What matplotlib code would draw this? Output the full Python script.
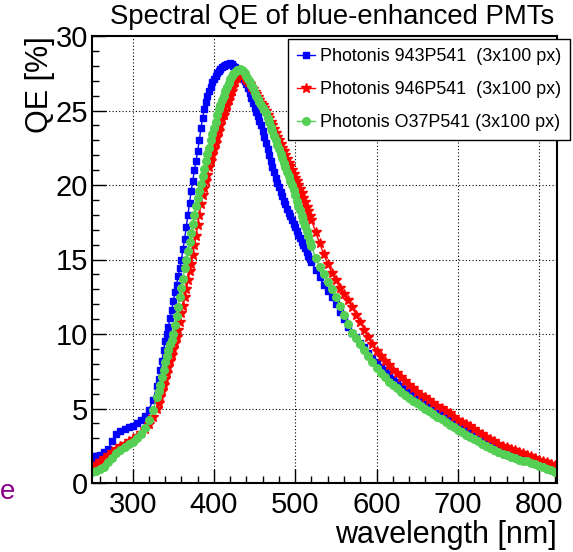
import matplotlib
matplotlib.use("Agg")
import matplotlib.pyplot as plt
from matplotlib.ticker import MultipleLocator

plt.rcParams["font.family"] = ["Liberation Sans", "DejaVu Sans"]

# wavelength grid [nm]: coarse in the UV, fine around the peak, coarse in the tail
wl = list(range(250, 330, 5)) + list(range(330, 520, 2)) + list(range(520, 825, 5))

# Photonis 943P541
qe_943 = [
    1.7, 1.8, 1.9, 2.1, 2.3, 2.8, 3.3, 3.5, 3.6, 3.75, 3.85, 4.0, 4.2, 4.5, 4.9, 5.6,
    # 330 .. 420
    6.5, 7.0, 7.6, 8.2, 8.9, 9.5, 10.0, 10.5, 11.1, 11.6,
    12.2, 12.8, 13.3, 13.9, 14.4, 15.0, 15.7, 16.4, 17.2, 18.0,
    18.8, 19.6, 20.3, 21.0, 21.6, 22.3, 23.0, 23.8, 24.5, 25.1,
    25.6, 26.0, 26.3, 26.6, 26.9, 27.1, 27.3, 27.5, 27.65, 27.8,
    27.9, 28.0, 28.05, 28.1, 28.15, 28.2,
    # 422 .. 518
    28.15, 28.0, 27.9, 27.75, 27.6, 27.45, 27.3, 27.1, 26.95, 26.75,
    26.5, 26.2, 25.85, 25.5, 25.2, 24.9, 24.6, 24.3, 24.0, 23.6,
    23.2, 22.8, 22.4, 22.0, 21.6, 21.2, 20.85, 20.5, 20.15, 19.85,
    19.55, 19.25, 18.95, 18.7, 18.4, 18.15, 17.9, 17.65, 17.4, 17.15,
    16.9, 16.65, 16.45, 16.2, 15.95, 15.75, 15.5, 15.25, 15.05,
    # 520 .. 820
    14.8, 14.3, 13.8, 13.3, 12.9, 12.5, 12.0, 11.5, 11.0, 10.5,
    10.1, 9.8, 9.4, 9.1, 8.7, 8.4, 8.1, 7.8, 7.6, 7.3,
    7.0, 6.8, 6.5, 6.3, 6.1, 5.9, 5.7, 5.5, 5.3, 5.1,
    4.9, 4.7, 4.6, 4.4, 4.2, 4.05, 3.9, 3.75, 3.6, 3.45,
    3.3, 3.15, 3.0, 2.8, 2.65, 2.5, 2.35, 2.25, 2.15, 2.05,
    1.95, 1.85, 1.75, 1.65, 1.55, 1.5, 1.4, 1.3, 1.25, 1.15,
    1.1,
]

# Photonis 946P541
qe_946 = [
    1.2, 1.3, 1.5, 1.7, 1.9, 2.1, 2.3, 2.5, 2.65, 2.8, 2.95, 3.15, 3.35, 3.6, 3.95, 4.4,
    # 330 .. 420
    5.0, 5.4, 5.8, 6.2, 6.6, 7.0, 7.4, 7.8, 8.2, 8.6,
    9.0, 9.4, 9.8, 10.3, 10.8, 11.4, 11.9, 12.5, 13.0, 13.6,
    14.2, 14.7, 15.3, 16.0, 16.6, 17.3, 18.0, 18.7, 19.3, 19.8,
    20.3, 20.7, 21.2, 21.6, 22.0, 22.4, 22.8, 23.2, 23.6, 24.0,
    24.4, 24.7, 25.0, 25.4, 25.7, 26.0,
    # 422 .. 518
    26.3, 26.6, 26.9, 27.2, 27.35, 27.45, 27.4, 27.35, 27.2, 27.05,
    26.9, 26.75, 26.6, 26.45, 26.25, 26.1, 25.9, 25.7, 25.5, 25.35,
    25.15, 24.95, 24.7, 24.5, 24.25, 24.0, 23.75, 23.5, 23.25, 23.0,
    22.75, 22.5, 22.25, 22.0, 21.75, 21.5, 21.25, 21.0, 20.75, 20.5,
    20.25, 20.0, 19.75, 19.45, 19.15, 18.85, 18.55, 18.25, 17.95,
    # 520 .. 820
    17.65, 16.85, 16.1, 15.35, 14.7, 14.1, 13.6, 13.1, 12.7, 12.3,
    11.8, 11.3, 10.8, 10.3, 9.8, 9.3, 8.85, 8.5, 8.2, 7.9,
    7.6, 7.35, 7.1, 6.85, 6.6, 6.35, 6.1, 5.9, 5.75, 5.55,
    5.4, 5.2, 5.05, 4.85, 4.7, 4.45, 4.25, 4.1, 3.95, 3.8,
    3.6, 3.45, 3.3, 3.1, 2.95, 2.8, 2.6, 2.5, 2.4, 2.3,
    2.2, 2.1, 2.0, 1.9, 1.8, 1.7, 1.55, 1.5, 1.4, 1.3,
    1.2,
]

# Photonis O37P541
qe_o37 = [
    0.75, 0.8, 0.95, 1.1, 1.4, 1.7, 2.0, 2.2, 2.4, 2.6, 2.75, 3.0, 3.3, 3.7, 4.2, 4.9,
    # 330 .. 420
    5.8, 6.2, 6.6, 7.1, 7.6, 8.1, 8.5, 8.9, 9.3, 9.6,
    10.0, 10.6, 11.2, 11.8, 12.5, 13.1, 13.7, 14.4, 15.0, 15.6,
    16.2, 16.8, 17.4, 18.0, 18.6, 19.1, 19.6, 20.1, 20.6, 21.1,
    21.6, 22.1, 22.5, 23.0, 23.4, 23.8, 24.2, 24.7, 25.1, 25.4,
    25.7, 26.0, 26.3, 26.6, 26.85, 27.1,
    # 422 .. 518
    27.3, 27.45, 27.6, 27.7, 27.75, 27.8, 27.75, 27.65, 27.5, 27.3,
    27.1, 26.9, 26.7, 26.5, 26.2, 26.0, 25.8, 25.6, 25.4, 25.2,
    25.05, 24.8, 24.5, 24.2, 23.9, 23.6, 23.3, 23.0, 22.7, 22.4,
    22.1, 21.8, 21.5, 21.2, 20.9, 20.6, 20.3, 20.0, 19.65, 19.3,
    18.95, 18.6, 18.3, 17.95, 17.6, 17.25, 16.9, 16.55, 16.2,
    # 520 .. 820
    15.9, 15.1, 14.5, 14.0, 13.5, 13.0, 12.5, 11.9, 11.3, 10.7,
    10.1, 9.7, 9.3, 8.9, 8.5, 8.1, 7.7, 7.4, 7.1, 6.8,
    6.6, 6.35, 6.1, 5.9, 5.7, 5.5, 5.35, 5.15, 5.0, 4.8,
    4.6, 4.45, 4.3, 4.1, 3.9, 3.75, 3.55, 3.4, 3.25, 3.1,
    2.95, 2.8, 2.65, 2.5, 2.35, 2.2, 2.05, 1.95, 1.85, 1.75,
    1.65, 1.55, 1.5, 1.45, 1.35, 1.25, 1.15, 1.05, 0.95, 0.85,
    0.75,
]

labels = ["Photonis 943P541  (3x100 px)",
          "Photonis 946P541  (3x100 px)",
          "Photonis O37P541 (3x100 px)"]

W, H = 573, 552
fig = plt.figure(figsize=(W / 100, H / 100), dpi=100)
ax = fig.add_axes([92 / W, 1 - 483 / H, (557 - 92) / W, (483 - 36) / H])

ax.plot(wl, qe_943, color="#0000ff", marker="s", ms=5, lw=1, label=labels[0])
ax.plot(wl, qe_946, color="#ff0000", marker="*", ms=7, lw=1, label=labels[1])
ax.plot(wl, qe_o37, color="#55d055", marker="o", ms=5.5, lw=1, label=labels[2])

ax.set_xlim(250, 822)
ax.set_ylim(0, 30)
ax.xaxis.set_major_locator(MultipleLocator(100))
ax.xaxis.set_minor_locator(MultipleLocator(20))
ax.yaxis.set_major_locator(MultipleLocator(5))
ax.yaxis.set_minor_locator(MultipleLocator(1))
ax.tick_params(which="both", direction="in", width=1, labelsize=21)
ax.tick_params(which="major", length=10)
ax.tick_params(which="minor", length=5)
ax.tick_params(axis="x", pad=6)
ax.tick_params(axis="y", pad=3)
ax.grid(True, which="major", color="black", linestyle=(0, (1, 2)), lw=0.8)
for sp in ax.spines.values():
    sp.set_linewidth(1.5)

ax.set_ylabel("QE [%]", fontsize=22, loc="top")
ax.yaxis.set_label_coords(-0.08, 1.0)
ax.set_xlabel("wavelength [nm]", fontsize=22, loc="right")
ax.xaxis.set_label_coords(1.0, -0.082)

fig.text(0.58, 1 - 4 / H, "Spectral QE of blue-enhanced PMTs",
         ha="center", va="top", fontsize=19.8)

leg = ax.legend(loc="upper left", bbox_to_anchor=(288 / W, 1 - 39 / H),
                bbox_transform=fig.transFigure, fontsize=12.9, numpoints=1,
                handlelength=1.0, handletextpad=0.3, labelspacing=0.9,
                borderpad=0.5, borderaxespad=0, fancybox=False,
                edgecolor="black", framealpha=1)
leg.get_frame().set_linewidth(1)

# remnant of a neighbouring label at the left edge
fig.text(0, 1 - 492 / H, "e", ha="left", va="center",
         color="#880088", fontsize=20)

fig.savefig("out.png", dpi=100)
